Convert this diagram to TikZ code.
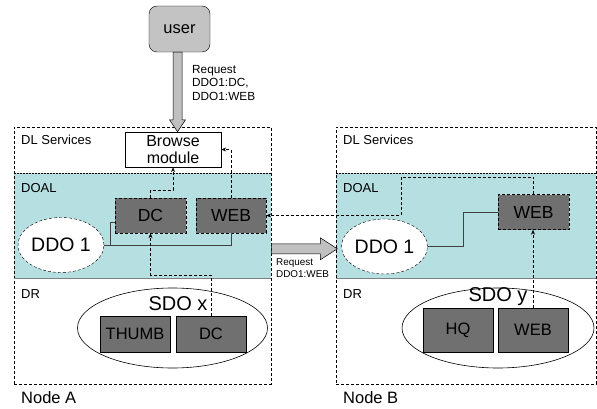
\documentclass[tikz,border=0pt]{standalone}
\usepackage{fontspec}
\setmainfont{Liberation Sans}
\usetikzlibrary{positioning,arrows.meta,shapes,calc}
\definecolor{DoalCyan}{RGB}{182,223,225}
\definecolor{BoxGray}{RGB}{112,112,112}
\definecolor{UserGray}{RGB}{195,195,195}
\definecolor{ArrowGray}{RGB}{192,192,192}

\begin{document}
\begin{tikzpicture}[x=1pt, y=-1pt,
    every node/.style={inner sep=0pt, font=\fontsize{13}{15}\selectfont},
    hostbox/.style={draw, line width=0.6pt, dash pattern=on 3pt off 2pt, anchor=north west,
        minimum width=257, minimum height=257},
    doalband/.style={fill=DoalCyan, anchor=north west, minimum height=105},
    laytext/.style={anchor=west},
    hosttext/.style={anchor=west, font=\fontsize{16.5}{18}\selectfont},
    objbox/.style={draw, fill=BoxGray, dash pattern=on 3pt off 2pt, minimum width=71,
        minimum height=35, font=\fontsize{17.5}{19}\selectfont},
    sdobox/.style={draw, fill=BoxGray, minimum width=70, minimum height=36,
        font=\fontsize{16.5}{18}\selectfont},
    ddo/.style={ellipse, draw, dash pattern=on 3pt off 2pt, fill=white, minimum width=86,
        minimum height=55, font=\fontsize{19.5}{21}\selectfont},
    sdo/.style={ellipse, draw, line width=0.6pt, minimum width=190, minimum height=80},
    sdotext/.style={font=\fontsize{20}{22}\selectfont},
    reqtext/.style={anchor=north west, align=left},
    link/.style={draw, line width=0.8pt, black!75},
    flow/.style={line width=0.6pt, dash pattern=on 3pt off 2pt, -{Stealth[length=5pt,width=4pt]}},
    bigarrow/.style={draw, line width=0.5pt, fill=ArrowGray, line join=miter},
]
\useasboundingbox (0,0) rectangle (597,409);

\node[doalband, minimum width=257] (doalA) at (14,173) {};
\node[doalband, minimum width=260] (doalB) at (336,173) {};
\node[hostbox] (hostA) at (14,127) {};
\node[hostbox, minimum width=260] (hostB) at (336,127) {};
\foreach \d in {doalA,doalB} {
    \draw[line width=0.7pt, dash pattern=on 2pt off 1pt] (\d.north west) -- (\d.north east);
    \draw[line width=1.2pt, gray] (\d.south west) -- (\d.south east);
}

\node[laytext] (dlA) at (21,140) {DL Services};
\node[laytext] (dlB) at (343,140) {DL Services};
\node[laytext] (doalAtext) at (21,188) {DOAL};
\node[laytext] (doalBtext) at (343,188) {DOAL};
\node[laytext] (drA) at (21,294) {DR};
\node[laytext] (drB) at (343,294) {DR};
\node[hosttext] (nameA) at (21,398) {Node A};
\node[hosttext] (nameB) at (343,398) {Node B};

\node[draw, fill=UserGray, rounded corners=8pt, minimum width=61, minimum height=46,
    font=\fontsize{16.5}{18}\selectfont] (user) at (179.5,29) {user};
\node[draw, fill=white, minimum width=96, minimum height=35, align=center,
    font=\fontsize{16}{17}\selectfont] (browseA) at (173,149.5) {Browse\\module};

\path (user.south) ++(-2,0) coordinate (uTop);
\path (uTop |- browseA.north) coordinate (uTip);
\draw[bigarrow] ($(uTop)+(-4.5,0)$) -- ($(uTip)+(-4.5,-12)$) -- ($(uTip)+(-8,-12)$)
    -- (uTip) -- ($(uTip)+(8,-12)$) -- ($(uTip)+(4.5,-12)$) -- ($(uTop)+(4.5,0)$) -- cycle;
\node[reqtext, font=\fontsize{11.8}{13.5}\selectfont] (reqA) at (192,65)
    {Request\\DDO1:DC,\\DDO1:WEB};

\node[objbox] (dcA) at (150.5,215.5) {DC};
\node[objbox, minimum width=70] (webA) at (231,215.5) {WEB};
\node[ddo] (ddoA) at (61,245) {DDO 1};
\node[objbox] (webB) at (533.5,212) {WEB};
\node[ddo] (ddoB) at (384.5,246.5) {DDO 1};

\node[sdo] (sdoA) at (172.5,328) {};
\node[sdotext] (sdoAtext) at (178,304) {SDO x};
\node[sdobox] (thumbA) at (135,334) {THUMB};
\node[sdobox] (sdcA) at (211,334) {DC};

\node[sdo, minimum width=192] (sdoB) at (498,328) {};
\node[sdotext] (sdoBtext) at (498,297) {SDO y};
\node[sdobox, minimum height=44] (hqB) at (458,330) {HQ};
\node[sdobox, minimum height=44] (swebB) at (533,330) {WEB};

\draw[link] (ddoA.east) -- ++(6,0) coordinate (jA) |- ($(dcA.west)+(0,6.5)$);
\draw[link] (jA) -| (webA.south);
\draw[link] (ddoB.east) -- ++(36,0) |- (webB.west);

\draw[flow] (sdcA.north) -- ++(0,-41) -| (dcA.south);
\draw[flow] (dcA.north) -- ++(0,-8) -| (browseA.south);
\draw[flow] (webA.north) |- (browseA.east);
\coordinate (bendB) at (401,177);
\draw[flow] (webB.north) |- (bendB) |- (webA.east);
\draw[flow] (swebB.north) -- (swebB.north |- webB.south);

\path (hostA.east) ++(0,-7) coordinate (aStart);
\path (aStart -| ddoB.west) ++(-4,0) coordinate (aTip);
\draw[bigarrow] ($(aStart)+(0,-5)$) -- ($(aTip)+(-17,-5)$) -- ($(aTip)+(-17,-11)$)
    -- (aTip) -- ($(aTip)+(-17,11)$) -- ($(aTip)+(-17,5)$) -- ($(aStart)+(0,5)$) -- cycle;
\node[reqtext, font=\fontsize{9.9}{12.5}\selectfont] (reqB) at (276,258)
    {Request\\DDO1:WEB};
\end{tikzpicture}
\end{document}
